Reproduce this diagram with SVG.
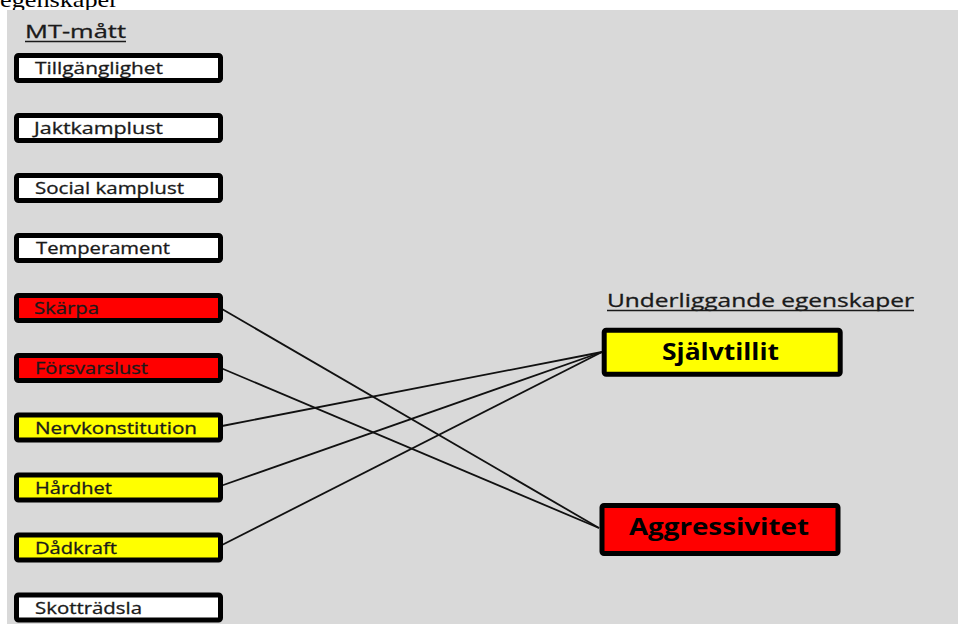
<svg xmlns="http://www.w3.org/2000/svg" width="958" height="624" viewBox="0 0 958 624">
<style>
.bx{stroke:#000;stroke-width:5;stroke-linejoin:round}
.w{fill:#fff}.r{fill:#f00}.y{fill:#ff0}
.lb{font-family:"Open Sans","Noto Sans","Liberation Sans",sans-serif;font-size:16px;fill:#1a1a1a;stroke:#1a1a1a;stroke-width:0.3}
.hd{font-family:"Open Sans","Noto Sans","Liberation Sans",sans-serif;font-size:18px;fill:#1a1a1a;stroke:#1a1a1a;stroke-width:0.3}
.bd{font-family:"Open Sans","Noto Sans","Liberation Sans",sans-serif;font-size:24px;font-weight:bold;fill:#000}
.ul{stroke:#1a1a1a;stroke-width:1.5}
.cn{stroke:#111;stroke-width:1.8;fill:none}
</style>
<rect width="958" height="624" fill="#fff"/>
<text x="0" y="7" font-family="'Liberation Serif',serif" font-size="22" fill="#000" textLength="118" lengthAdjust="spacingAndGlyphs">egenskaper</text>
<rect x="7" y="10" width="951" height="614" fill="#d9d9d9"/>
<g id="heading-mt">
<text class="hd" x="25" y="38" textLength="101" lengthAdjust="spacingAndGlyphs">MT-mått</text>
<line class="ul" x1="25" y1="41.5" x2="126" y2="41.5"/>
</g>
<g id="heading-under">
<text class="hd" x="607" y="306.5" textLength="307" lengthAdjust="spacingAndGlyphs">Underliggande egenskaper</text>
<line class="ul" x1="607" y1="310.5" x2="914" y2="310.5"/>
</g>
<g id="connectors">
<line class="cn" x1="222" y1="309" x2="599" y2="528"/>
<line class="cn" x1="222" y1="368.5" x2="599" y2="528"/>
<line class="cn" x1="222" y1="426" x2="602" y2="352"/>
<line class="cn" x1="222" y1="485.5" x2="602" y2="352"/>
<line class="cn" x1="222" y1="545" x2="602" y2="352"/>
</g>
<g id="n-tillganglighet"><rect class="bx w" x="16.5" y="55.5" width="204" height="25" rx="2"/><text class="lb" x="35" y="74" textLength="128" lengthAdjust="spacingAndGlyphs">Tillgänglighet</text></g>
<g id="n-jaktkamplust"><rect class="bx w" x="16.5" y="115.5" width="204" height="25" rx="2"/><text class="lb" x="34" y="134" textLength="129" lengthAdjust="spacingAndGlyphs">Jaktkamplust</text></g>
<g id="n-socialkamplust"><rect class="bx w" x="16.5" y="175.5" width="204" height="25" rx="2"/><text class="lb" x="35" y="194" textLength="149" lengthAdjust="spacingAndGlyphs">Social kamplust</text></g>
<g id="n-temperament"><rect class="bx w" x="16.5" y="235.5" width="204" height="25" rx="2"/><text class="lb" x="36" y="254" textLength="134" lengthAdjust="spacingAndGlyphs">Temperament</text></g>
<g id="n-skarpa"><rect class="bx r" x="16.5" y="295.5" width="204" height="25" rx="2"/><text class="lb" x="34" y="314" textLength="65" lengthAdjust="spacingAndGlyphs">Skärpa</text></g>
<g id="n-forsvarslust"><rect class="bx r" x="16.5" y="355.5" width="204" height="25" rx="2"/><text class="lb" x="35" y="374" textLength="113" lengthAdjust="spacingAndGlyphs">Försvarslust</text></g>
<g id="n-nervkonstitution"><rect class="bx y" x="16.5" y="415" width="204" height="25" rx="2"/><text class="lb" x="35" y="433.5" textLength="162" lengthAdjust="spacingAndGlyphs">Nervkonstitution</text></g>
<g id="n-hardhet"><rect class="bx y" x="16.5" y="475" width="204" height="25" rx="2"/><text class="lb" x="35" y="493.5" textLength="77" lengthAdjust="spacingAndGlyphs">Hårdhet</text></g>
<g id="n-dadkraft"><rect class="bx y" x="16.5" y="535" width="204" height="25" rx="2"/><text class="lb" x="35" y="553.5" textLength="82" lengthAdjust="spacingAndGlyphs">Dådkraft</text></g>
<g id="n-skottradsla"><rect class="bx w" x="16.5" y="595" width="204" height="25" rx="2"/><text class="lb" x="35" y="613.5" textLength="107" lengthAdjust="spacingAndGlyphs">Skotträdsla</text></g>
<g id="n-sjalvtillit"><rect class="bx y" x="604.2" y="330.2" width="236" height="44" rx="2"/><text class="bd" x="662" y="360" textLength="117" lengthAdjust="spacingAndGlyphs">Självtillit</text></g>
<g id="n-aggressivitet"><rect class="bx r" x="602" y="505.5" width="236" height="48" rx="2"/><text class="bd" x="629" y="535" textLength="180" lengthAdjust="spacingAndGlyphs">Aggressivitet</text></g>
</svg>
